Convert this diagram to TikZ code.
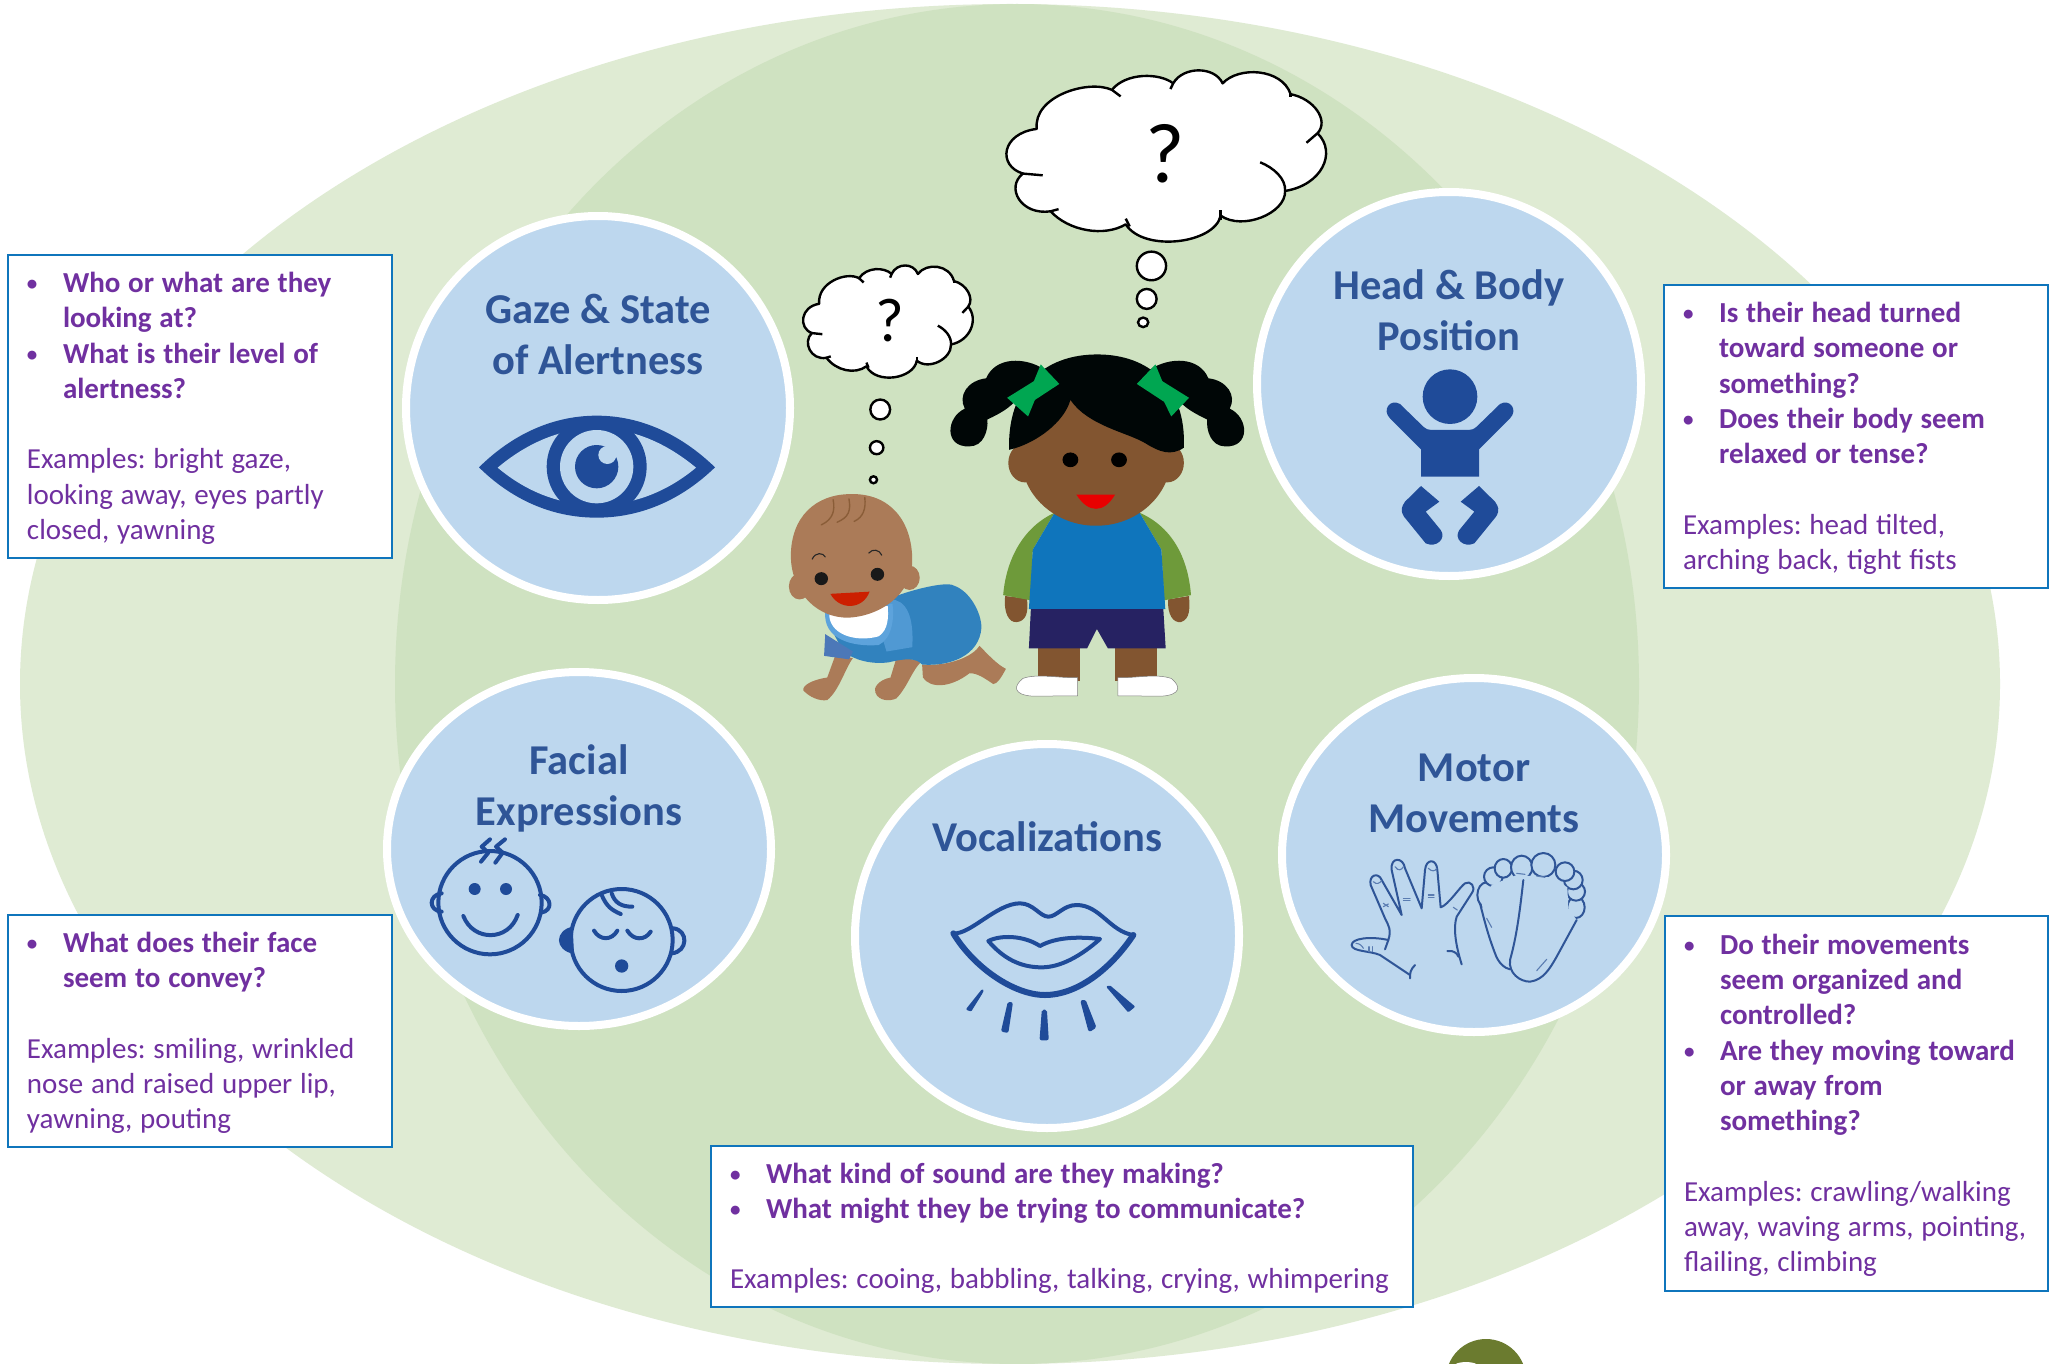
\documentclass[tikz,border=0pt]{standalone}
\usepackage{fontspec}
\setmainfont{Carlito}
\usetikzlibrary{shapes.geometric}
\definecolor{lightgreen}{HTML}{DFEBD3}
\definecolor{midgreen}{HTML}{CFE2C1}
\definecolor{circblue}{HTML}{BDD7EE}
\definecolor{titleblue}{HTML}{2F5597}
\definecolor{iconblue}{HTML}{1F4B99}
\definecolor{boxblue}{HTML}{0F75BC}
\definecolor{txtpurple}{HTML}{7030A0}
\definecolor{skinG}{HTML}{825530}
\definecolor{skinB}{HTML}{AB7B58}
\definecolor{shirtblue}{HTML}{0F75BC}
\definecolor{sleevegreen}{HTML}{6E9A3A}
\definecolor{shortnavy}{HTML}{262262}
\definecolor{bowgreen}{HTML}{00A651}
\definecolor{babyblue}{HTML}{3182BE}
\definecolor{bibblue}{HTML}{5DA3DC}
\definecolor{sleeveB}{HTML}{4C78B8}
\definecolor{olive}{HTML}{6B7B2F}
\hyphenpenalty=10000\relax
\frenchspacing
\newcommand{\ex}{\hspace*{9pt}}
\newcommand{\bl}[1]{\ex\rule{0pt}{24pt}\makebox[36pt][l]{\raisebox{1.5pt}{\fontsize{21}{21}\selectfont\bfseries\char"2022}}{\bfseries #1}}
\newcommand{\cn}[1]{\ex\hspace*{36pt}{\bfseries #1}}
\newcommand{\cloudshape}{%
  \draw[cloudline,fill=white] (700,205) .. controls (690,130) and (830,90) .. (890,115)
    .. controls (925,75) and (1010,75) .. (1045,100)
    .. controls (1070,60) and (1150,60) .. (1170,100)
    .. controls (1210,60) and (1320,65) .. (1342,125)
    .. controls (1400,135) and (1440,185) .. (1410,215)
    .. controls (1460,260) and (1420,335) .. (1328,348)
    .. controls (1330,400) and (1220,440) .. (1165,405)
    .. controls (1150,470) and (970,490) .. (925,425)
    .. controls (870,455) and (780,440) .. (735,395)
    .. controls (660,405) and (620,340) .. (665,308)
    .. controls (600,290) and (610,215) .. (700,205) -- cycle;
  \draw[cloudline] (665,308) -- (715,312);
  \draw[cloudline] (735,395) -- (755,390);
  \draw[cloudline] (1410,215) -- (1382,237);
  \draw[cloudline] (1265,282) .. controls (1300,295) and (1330,320) .. (1328,348);
  \draw[cloudline] (1165,392) -- (1165,415);
  \draw[cloudline] (925,412) -- (935,430);
  \draw[cloudline] (890,115) -- (912,130);
  \draw[cloudline] (1045,100) -- (1038,113);
  \draw[cloudline] (1342,125) -- (1342,132);
}
\tikzset{
  x=1pt,y=-1pt,
  topic/.style={circle,draw=white,line width=8pt,fill=circblue,minimum size=384pt,inner sep=0pt},
  topicflat/.style={ellipse,draw=white,line width=8pt,fill=circblue,minimum width=384pt,minimum height=354pt,inner sep=0pt},
  topictitle/.style={font=\bfseries\fontsize{42.5}{51}\selectfont,text=titleblue,align=center},
  infobox/.style={draw=boxblue,line width=1.6pt,fill=white,anchor=north west,align=left,
    inner xsep=10pt,inner ysep=0pt,outer sep=0pt,text=txtpurple,
    font=\fontsize{29}{35.3}\selectfont,
    execute at begin node={\spaceskip=7.8pt\relax}},
  cloudline/.style={draw=black,line width=2.4pt,line join=round},
  bubble/.style={draw=black,line width=2.4pt,fill=white},
  iconline/.style={draw=iconblue,line width=4pt,line cap=round,line join=round},
  thinline/.style={draw=titleblue,line width=2pt,line cap=round,line join=round},
  thinner/.style={draw=titleblue!70!circblue,line width=1.1pt,line cap=round},
  ray/.style={fill=iconblue,draw=iconblue,line width=4pt,line join=round},
  qmark/.style={text=black,inner sep=0pt}
}
\begin{document}
\begin{tikzpicture}
\useasboundingbox (0,0) rectangle (2049,1364);
\clip (0,0) rectangle (2049,1364);
\fill[white] (0,0) rectangle (2049,1364);
% background
\fill[lightgreen] (1010,684) ellipse [x radius=990,y radius=680];
\fill[midgreen] (1017,684) ellipse [x radius=622,y radius=680];
\fill[olive] (1486,1379) circle (40);
\fill[white] (1466,1366) ellipse [x radius=12,y radius=4];
% topic circles
\node[topic] (gaze) at (598,408) {};
\node[topic] (head) at (1449,384) {};
\node[topicflat] (face) at (579,849) {};
\node[topic] (voc) at (1047,936) {};
\node[topicflat] (motor) at (1474,855) {};
\node[topictitle] (gazeT) at (598,334) {Gaze \& State\\of Alertness};
\node[topictitle] (headT) at (1449,310) {Head \& Body\\Position};
\node[topictitle] (faceT) at (579,788.5) {Facial\\Expressions};
\node[topictitle] (vocT) at (1047,837) {Vocalizations};
\node[topictitle] (motorT) at (1474,793) {Motor\\Movements};
% info boxes
\node[infobox,text width=364pt,minimum height=303pt] (b1) at (8,255) {%
\bl{Who or what are they}\\\cn{looking at?}\\\bl{What is their level of}\\\cn{alertness?}\\\mbox{}\\\ex Examples: bright gaze,\\\ex looking away, eyes partly\\\ex closed, yawning};
\node[infobox,text width=364pt,minimum height=303pt] (b2) at (1664,285) {%
\bl{Is their head turned}\\\cn{toward someone or}\\\cn{something?}\\\bl{Does their body seem}\\\cn{relaxed or tense?}\\\mbox{}\\\ex Examples: head tilted,\\\ex arching back, tight fists};
\node[infobox,text width=364pt,minimum height=232pt] (b3) at (8,915) {%
\bl{What does their face}\\\cn{seem to convey?}\\\mbox{}\\\ex Examples: smiling, wrinkled\\\ex nose and raised upper lip,\\\ex yawning, pouting};
\node[infobox,text width=682pt,minimum height=161pt] (b4) at (711,1146) {%
\bl{What kind of sound are they making?}\\\bl{What might they be trying to communicate?}\\\mbox{}\\\ex Examples: cooing, babbling, talking, crying, whimpering};
\node[infobox,text width=363pt,minimum height=375pt] (b5) at (1665,916) {%
\bl{Do their movements}\\\cn{seem organized and}\\\cn{controlled?}\\\bl{Are they moving toward}\\\cn{or away from}\\\cn{something?}\\\mbox{}\\\ex Examples: crawling/walking\\\ex away, waving arms, pointing,\\\ex flailing, climbing};
% eye icon
\begin{scope}[shift={(460,400)},xscale=1/3,yscale=1/3]
\fill[iconblue] (57,202) .. controls (150,110) and (270,47) .. (410,47) .. controls (550,47) and (670,110) .. (765,202) .. controls (670,294) and (550,353) .. (410,353) .. controls (270,353) and (150,294) .. (57,202) -- cycle;
\fill[circblue] (113,203) .. controls (200,130) and (300,85) .. (410,85) .. controls (520,85) and (620,130) .. (708,203) .. controls (620,276) and (520,315) .. (410,315) .. controls (300,315) and (200,276) .. (113,203) -- cycle;
\fill[iconblue] (410,200) circle (150);
\fill[circblue] (410,200) circle (110);
\fill[iconblue] (410,200) circle (65);
\fill[circblue] (442,165) circle (27);
\end{scope}
% baby position icon
\begin{scope}[shift={(1280,200)},xscale=1/3,yscale=1/3]
\fill[iconblue] (510,590) circle (82);
\fill[iconblue] (423,830) -- (423,748) -- (330,655) .. controls (305,630) and (330,595) .. (360,612) -- (430,680) .. controls (440,688) and (445,690) .. (455,690) -- (565,690) .. controls (575,690) and (580,688) .. (590,680) -- (660,612) .. controls (690,595) and (715,630) .. (690,655) -- (597,748) -- (597,830) -- cycle;
\fill[iconblue] (423,858) -- (478,905) -- (437,935) -- (482,990) .. controls (500,1015) and (470,1045) .. (437,1030) -- (372,950) .. controls (360,930) and (365,920) .. (375,905) -- cycle;
\fill[iconblue] (597,858) -- (542,905) -- (583,935) -- (538,990) .. controls (520,1015) and (550,1045) .. (583,1030) -- (648,950) .. controls (660,930) and (655,920) .. (645,905) -- cycle;
\end{scope}
% faces icon
\begin{scope}[shift={(380,780)},xscale=1/3,yscale=1/3]
\draw[iconline] (330,368) circle (155);
\draw[iconline] (185,340) .. controls (145,345) and (145,392) .. (185,395);
\draw[iconline] (480,345) .. controls (515,350) and (520,392) .. (483,398);
\fill[iconblue] (284,327) circle (18) (378,327) circle (18);
\draw[iconline] (250,408) .. controls (280,485) and (385,485) .. (413,405);
\draw[iconline] (330,178) -- (305,200) -- (325,218) -- (303,245);
\draw[iconline] (375,178) -- (348,200) -- (368,218) -- (346,248);
\fill[iconblue] (578,440) .. controls (525,450) and (520,510) .. (582,522) -- cycle;
\draw[iconline] (725,480) circle (153);
\draw[iconline] (880,445) .. controls (925,450) and (925,515) .. (875,520);
\draw[iconline] (642,452) .. controls (660,482) and (695,482) .. (712,452);
\draw[iconline] (742,452) .. controls (760,482) and (795,482) .. (812,455);
\fill[iconblue] (725,558) circle (20);
\draw[iconline] (665,345) .. controls (680,380) and (695,390) .. (722,402);
\draw[iconline] (695,340) .. controls (705,370) and (725,380) .. (757,380);
\end{scope}
% lips icon
\begin{scope}[shift={(900,880)},xscale=1/3,yscale=1/3]
\draw[iconline] (160,160) .. controls (210,165) and (290,70) .. (360,70) .. controls (400,70) and (420,110) .. (445,110) .. controls (470,110) and (490,75) .. (530,75) .. controls (600,75) and (630,155) .. (700,165);
\draw[iconline,line width=6pt] (160,160) .. controls (220,260) and (340,345) .. (435,345) .. controls (530,345) and (630,270) .. (700,165);
\draw[iconline] (265,183) .. controls (300,165) and (370,165) .. (420,198) .. controls (470,170) and (540,170) .. (600,177) .. controls (540,230) and (480,262) .. (425,262) .. controls (360,262) and (310,235) .. (265,183) -- cycle;
\filldraw[ray,line width=2.5pt] (247,332) -- (243,340) -- (212,390) -- (203,387) -- cycle;
\filldraw[ray] (332,372) -- (328,372) -- (310,450) -- (320,452) -- cycle;
\filldraw[ray] (431,395) -- (435,395) -- (440,475) -- (425,475) -- cycle;
\filldraw[ray] (548,366) -- (553,366) -- (582,440) -- (570,448) -- cycle;
\filldraw[ray,line width=2.5pt] (624,321) -- (630,321) -- (700,380) -- (685,392) -- cycle;
\end{scope}
% hand and foot icon
\begin{scope}[shift={(1320,830)},xscale=1/3,yscale=1/3]
\draw[thinline] (285,405) .. controls (270,420) and (270,430) .. (270,445);
\draw[thinline] (270,435) -- (180,375) .. controls (150,362) and (95,365) .. (95,345) .. controls (95,325) and (150,318) .. (205,330) .. controls (215,300) and (205,285) .. (195,265) -- (152,165) .. controls (145,135) and (175,125) .. (185,150) -- (245,255) -- (215,120) .. controls (210,80) and (250,80) .. (255,115) -- (305,235) -- (315,120) .. controls (318,85) and (350,85) .. (352,120) -- (362,232) .. controls (385,225) and (420,170) .. (435,160) .. controls (450,150) and (470,170) .. (455,190) -- (410,260) .. controls (400,290) and (405,340) .. (425,403);
\draw[thinline] (382,363) .. controls (400,360) and (412,370) .. (415,380);
\draw[thinline] (205,330) -- (195,358);
\draw[thinner] (225,110) .. controls (235,125) and (245,120) .. (250,110);
\draw[thinner] (160,155) .. controls (170,165) and (178,160) .. (185,152);
\draw[thinner] (325,115) .. controls (335,125) and (345,125) .. (350,115);
\draw[thinner] (108,340) .. controls (120,340) and (128,350) .. (130,355);
\draw[thinner] (190,230) -- (205,222) (190,220) -- (205,230);
\draw[thinner] (250,205) -- (270,205) (250,212) -- (270,212);
\draw[thinner] (325,195) -- (342,195) (325,203) -- (342,203);
\draw[thinner] (400,232) -- (412,240);
\draw[thinner] (147,350) -- (147,365) (157,350) -- (157,365);
\draw[thinline,fill=circblue] (500,195) ellipse [x radius=28,y radius=38];
\draw[thinline,fill=circblue] (520,140) ellipse [x radius=28,y radius=28];
\draw[thinline,fill=circblue] (550,115) ellipse [x radius=26,y radius=28];
\draw[thinline,fill=circblue] (605,112) ellipse [x radius=32,y radius=35];
\draw[thinline,fill=circblue] (768,232) ellipse [x radius=26,y radius=32];
\draw[thinline,fill=circblue] (768,185) ellipse [x radius=27,y radius=27];
\draw[thinline,fill=circblue] (760,150) ellipse [x radius=28,y radius=28];
\draw[thinline,fill=circblue] (735,125) ellipse [x radius=28,y radius=28];
\draw[thinline,fill=circblue] (670,105) ellipse [x radius=36,y radius=36];
\fill[circblue] (485,222) -- (515,165) -- (590,135) -- (690,142) -- (742,172) -- (745,235) -- (770,270) -- (710,380) -- (630,455) -- (570,418) -- (525,370) -- cycle;
\draw[thinline] (480,220) .. controls (500,300) and (510,330) .. (525,370) .. controls (535,400) and (555,415) .. (570,418);
\draw[thinline] (610,150) .. controls (600,240) and (590,320) .. (570,390) .. controls (565,430) and (600,455) .. (630,455) .. controls (670,450) and (690,415) .. (710,380) -- (770,270);
\draw[thinner] (590,130) -- (615,133) (650,138) -- (675,142);
\draw[thinner] (500,265) -- (515,292);
\draw[thinner] (650,422) -- (680,388);
\end{scope}
% illustrations
\begin{scope}[shift={(760,40)},xscale=0.3954,yscale=0.4337]
% large cloud
\cloudshape
\draw[bubble] (990,521) ellipse [x radius=37,y radius=33];
\draw[bubble] (978,597) ellipse [x radius=25,y radius=23];
\draw[bubble] (969,651) ellipse [x radius=13,y radius=11];
\node[qmark,font=\fontsize{85}{85}\selectfont] (q1) at (1025,262) {?};
% small cloud
\begin{scope}[shift={(-222,474)},xscale=0.531,yscale=0.655]
\cloudshape
\end{scope}
\draw[bubble] (304,852) ellipse [x radius=25,y radius=23];
\draw[bubble] (295,940) ellipse [x radius=17,y radius=15];
\draw[bubble] (287,1014) ellipse [x radius=9,y radius=8];
\node[qmark,font=\fontsize{62}{62}\selectfont] (q2) at (328,647) {?};
% girl
\fill[skinG] (703,1395) rectangle (808,1478);
\fill[skinG] (897,1395) rectangle (1003,1478);
\fill[white,draw=black!50,line width=0.5pt] (803,1470) .. controls (760,1472) and (700,1460) .. (665,1472) .. controls (640,1490) and (640,1510) .. (690,1513) -- (803,1512) -- cycle;
\fill[white,draw=black!50,line width=0.5pt] (905,1470) .. controls (950,1472) and (1000,1460) .. (1040,1472) .. controls (1065,1490) and (1065,1510) .. (1015,1513) -- (905,1512) -- cycle;
\fill[skinG] (620,1282) .. controls (615,1320) and (630,1345) .. (650,1342) .. controls (672,1340) and (680,1320) .. (675,1288) -- cycle;
\fill[skinG] (1032,1290) .. controls (1030,1325) and (1045,1345) .. (1065,1342) .. controls (1088,1335) and (1087,1310) .. (1085,1282) -- cycle;
\fill[sleevegreen] (745,1090) .. controls (650,1130) and (620,1220) .. (615,1280) -- (685,1292) -- (690,1175) -- cycle;
\fill[sleevegreen] (960,1090) .. controls (1060,1130) and (1085,1220) .. (1090,1280) -- (1022,1292) -- (1015,1175) -- cycle;
\fill[shirtblue] (745,1090) -- (960,1090) -- (1015,1175) -- (1025,1312) -- (680,1312) -- (690,1175) -- cycle;
\fill[shortnavy] (685,1312) -- (1020,1312) -- (1026,1403) -- (880,1403) -- (852,1358) -- (827,1403) -- (680,1403) -- cycle;
\fill[black!95!teal] (720,760) .. controls (670,730) and (595,730) .. (572,780) .. controls (525,785) and (500,820) .. (518,850) .. controls (470,870) and (465,940) .. (530,937) .. controls (565,937) and (578,900) .. (575,875) .. controls (610,860) and (650,840) .. (660,810) -- cycle;
\fill[black!95!teal] (986,760) .. controls (1036,730) and (1111,730) .. (1134,780) .. controls (1181,785) and (1206,820) .. (1188,850) .. controls (1236,870) and (1241,940) .. (1176,937) .. controls (1141,937) and (1128,900) .. (1131,875) .. controls (1096,860) and (1056,840) .. (1046,810) -- cycle;
\fill[skinG] (670,975) ellipse [x radius=42,y radius=45];
\fill[skinG] (1030,975) ellipse [x radius=42,y radius=45];
\fill[skinG] (850,960) ellipse [x radius=190,y radius=160];
\fill[black!95!teal] (630,945) .. controls (625,800) and (720,725) .. (853,725) .. controls (985,725) and (1078,800) .. (1072,940) .. controls (1040,960) and (1010,950) .. (975,930) .. controls (930,905) and (830,890) .. (785,830) .. controls (770,880) and (700,930) .. (630,945) -- cycle;
\fill[bowgreen] (710,748) -- (757,793) -- (665,848) -- cycle;
\fill[bowgreen] (625,825) -- (678,868) -- (722,770) -- cycle;
\fill[bowgreen] (1000,748) -- (953,793) -- (1045,848) -- cycle;
\fill[bowgreen] (1085,825) -- (1040,868) -- (988,770) -- cycle;
\fill[black] (785,968) ellipse [x radius=20,y radius=17];
\fill[black] (908,968) ellipse [x radius=20,y radius=17];
\fill[red!85!black!60!red] (800,1048) .. controls (830,1092) and (870,1092) .. (898,1048) -- cycle;
% baby
\fill[skinB] (410,1440) .. controls (480,1445) and (540,1420) .. (555,1397) .. controls (580,1420) and (600,1440) .. (622,1450) .. controls (610,1470) and (600,1485) .. (590,1485) .. controls (565,1470) and (550,1460) .. (530,1460) .. controls (480,1495) and (430,1495) .. (412,1470) -- cycle;
\fill[skinB] (190,1420) -- (170,1470) .. controls (130,1475) and (105,1490) .. (110,1500) .. controls (125,1515) and (150,1525) .. (170,1522) .. controls (200,1500) and (215,1450) .. (235,1425) -- cycle;
\fill[skinB] (345,1425) -- (330,1470) .. controls (300,1475) and (285,1495) .. (292,1505) .. controls (300,1525) and (330,1525) .. (345,1518) .. controls (375,1490) and (385,1450) .. (412,1430) -- cycle;
\fill[babyblue] (350,1280) .. controls (420,1258) and (480,1250) .. (490,1258) .. controls (530,1270) and (560,1320) .. (560,1355) .. controls (555,1420) and (480,1445) .. (410,1440) .. controls (395,1425) and (370,1425) .. (325,1435) .. controls (280,1440) and (240,1430) .. (210,1410) -- (170,1340) -- cycle;
\fill[sleeveB] (165,1370) -- (162,1420) -- (225,1428) -- (235,1410) -- cycle;
\fill[bibblue!70!babyblue] (330,1290) .. controls (370,1290) and (390,1330) .. (385,1400) -- (320,1410) -- (300,1350) -- cycle;
\fill[bibblue] (165,1320) .. controls (160,1380) and (230,1400) .. (300,1395) .. controls (335,1380) and (340,1330) .. (335,1300) -- cycle;
\fill[white] (175,1320) .. controls (172,1370) and (240,1390) .. (300,1375) .. controls (325,1360) and (325,1330) .. (323,1305) -- cycle;
\fill[skinB] (100,1260) ellipse [x radius=27,y radius=30];
\fill[skinB] (378,1240) ellipse [x radius=26,y radius=28];
\fill[skinB] (230,1047) .. controls (330,1045) and (385,1110) .. (385,1200) .. controls (385,1280) and (300,1330) .. (220,1332) .. controls (130,1330) and (78,1260) .. (78,1190) .. controls (78,1100) and (140,1047) .. (230,1047) -- cycle;
\draw[skinG!80!skinB,line width=1.4pt,line cap=round] (155,1118) .. controls (185,1105) and (190,1085) .. (185,1060);
\draw[skinG!80!skinB,line width=1.4pt,line cap=round] (195,1112) .. controls (225,1100) and (230,1085) .. (225,1058);
\draw[skinG!80!skinB,line width=1.4pt,line cap=round] (238,1110) .. controls (262,1100) and (268,1080) .. (265,1055);
\draw[black!85,line width=1.1pt,line cap=round] (132,1197) .. controls (140,1180) and (160,1182) .. (165,1192);
\draw[black!85,line width=1.1pt,line cap=round] (275,1183) .. controls (285,1172) and (302,1175) .. (308,1188);
\fill[black!90] (155,1242) ellipse [x radius=17,y radius=15];
\fill[black!90] (297,1232) ellipse [x radius=17,y radius=15];
\fill[red!70!orange!80!black] (178,1277) -- (277,1272) .. controls (260,1315) and (200,1315) .. (178,1277) -- cycle;
\end{scope}
\end{tikzpicture}
\end{document}
